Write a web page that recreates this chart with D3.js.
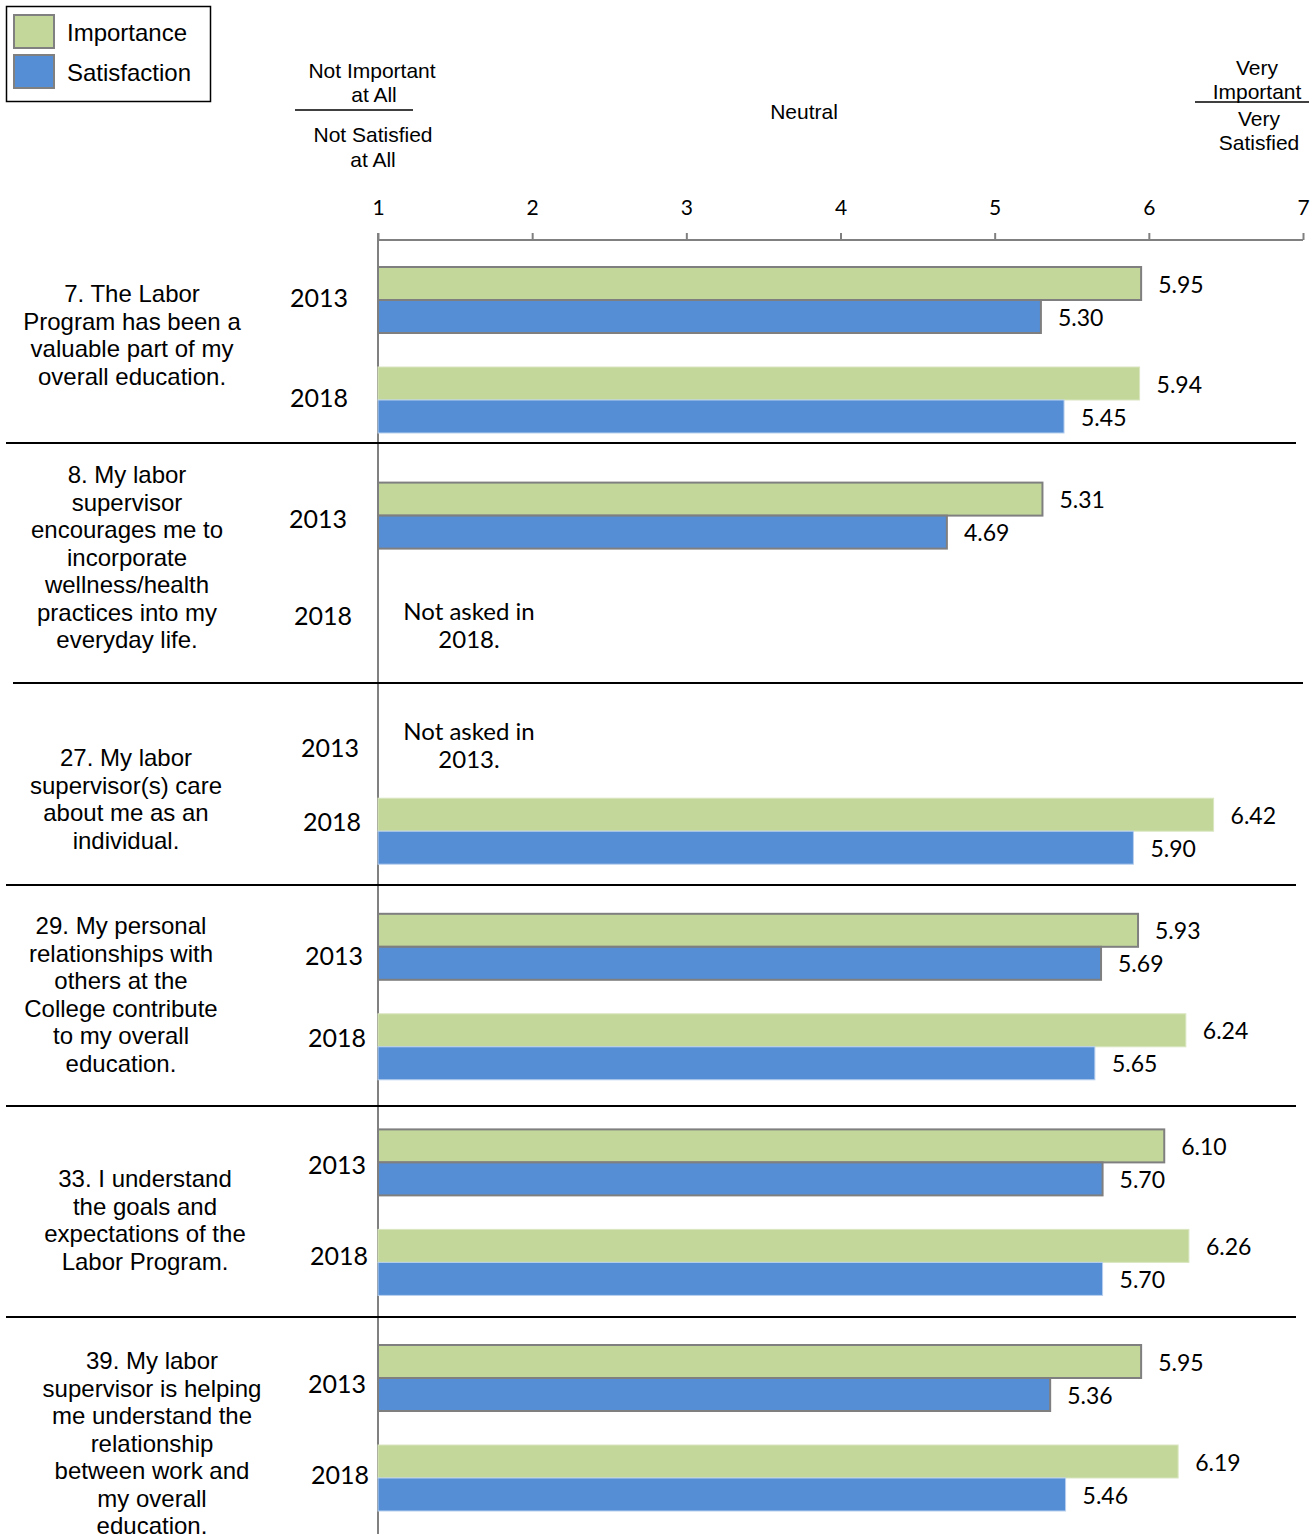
<!DOCTYPE html>
<html><head><meta charset="utf-8">
<script src="https://cdn.jsdelivr.net/npm/d3@7/dist/d3.min.js"></script>
<style>body{margin:0;background:#fff}svg{display:block}</style>
</head><body>
<script>
// ---------- DATA ----------
const questions = ["Q7","Q8","Q27","Q29","Q33","Q39"];
const questionText = [
  ["7. The Labor","Program has been a","valuable part of my","overall education."],
  ["8. My labor","supervisor","encourages me to","incorporate","wellness/health","practices into my","everyday life."],
  ["27. My labor","supervisor(s) care","about me as an","individual."],
  ["29.  My personal","relationships with","others at the","College contribute","to my overall","education."],
  ["33. I understand","the goals and","expectations of the","Labor Program."],
  ["39. My labor","supervisor is helping","me understand the","relationship","between work and","my overall","education."]
];
const years = ["2013","2018"];
const seriesNames = ["Importance","Satisfaction"];
// values per question: [2013, 2018], null = not asked
const importance = [[5.95,5.94],[5.31,null],[null,6.42],[5.93,6.24],[6.10,6.26],[5.95,6.19]];
const satisfaction = [[5.30,5.45],[4.69,null],[null,5.90],[5.69,5.65],[5.70,5.70],[5.36,5.46]];
const tickValues = [1,2,3,4,5,6,7];
const notAskedNotes = [{q:"Q8", year:"2018", lines:["Not asked in","2018."]},{q:"Q27", year:"2013", lines:["Not asked in","2013."]}];

// ---------- LAYOUT ----------
const W = 1315, H = 1534;
const colors = {Importance:"#C4D79B", Satisfaction:"#558ED5"};
const qTextLayout = [[132,294],[127,475],[126,758],[121,926],[145,1179],[152,1361]];
const yearRight = [[348,348],[347,352],[359,361],[363,366],[366,368],[366,369]];
const yearDy = [[-2,-2],[3,0],[17,-9],[9,-9],[3,-6],[6,-3]];
const noteDy = [1,5];
const separators = [[6,1296,443],[13,1303,683],[6,1296,885],[6,1296,1106],[6,1296,1317]];

const svg = d3.select("body").append("svg").attr("width",W).attr("height",H);

const x = d3.scaleLinear().domain([1,7]).range([378,1303]);
const yQ = d3.scaleBand().domain(questions).range([251, 251+6*215.6]);
const yYear = d3.scaleBand().domain(years).range([16,182]).paddingInner(0.34).paddingOuter(0);
const ySer = d3.scaleBand().domain(seriesNames).range([0, yYear.bandwidth()]);

// axis
const axis = d3.axisTop(x).tickValues(tickValues).tickSize(7).tickPadding(18).tickFormat(d3.format("d"));
const gAx = svg.append("g").attr("transform","translate(0,240)").call(axis);
gAx.select(".domain").attr("stroke","#808080").attr("stroke-width",2).attr("d","M378,0H1303");
gAx.selectAll(".tick line").attr("stroke","#808080").attr("stroke-width",2);
gAx.selectAll(".tick text").attr("font-family","Lato, 'Open Sans', sans-serif").attr("font-size",21).attr("fill","#000");

// vertical axis line
svg.append("line").attr("x1",378).attr("x2",378).attr("y1",233).attr("y2",H)
  .attr("stroke","#808080").attr("stroke-width",2);

// separators
svg.selectAll("line.sep").data(separators).enter().append("line").attr("class","sep")
  .attr("x1",d=>d[0]).attr("x2",d=>d[1]).attr("y1",d=>d[2]).attr("y2",d=>d[2])
  .attr("stroke","#000").attr("stroke-width",2);

// bars
const bars = [];
questions.forEach((q,qi)=>{
  years.forEach((yr,yi)=>{
    [["Importance",importance],["Satisfaction",satisfaction]].forEach(([s,arr])=>{
      const v = arr[qi][yi];
      if(v!==null) bars.push({q,qi,yr,yi,s,v});
    });
  });
});
const barY = d=>yQ(d.q)+yYear(d.yr)+ySer(d.s);
svg.selectAll("rect.bar").data(bars).enter().append("rect").attr("class","bar")
  .attr("x",x(1)).attr("y",barY)
  .attr("width",d=>x(d.v)-x(1)).attr("height",ySer.bandwidth())
  .attr("fill",d=>colors[d.s])
  .attr("stroke",d=>d.yr==="2013" ? "#7f7f7f" : (d.s==="Importance"?"#d9e6c0":"#b9d0ee"))
  .attr("stroke-width",d=>d.yr==="2013"?2:1);

svg.selectAll("text.val").data(bars).enter().append("text").attr("class","val")
  .attr("x",d=>x(d.v)+17).attr("y",d=>barY(d)+ySer.bandwidth()/2+1)
  .attr("dy","0.35em")
  .attr("font-family","Lato, 'Open Sans', sans-serif").attr("font-size",23).attr("fill","#000")
  .text(d=>d3.format(".2f")(d.v));

// year labels
questions.forEach((q,qi)=>{
  years.forEach((yr,yi)=>{
    svg.append("text")
      .attr("x",yearRight[qi][yi])
      .attr("y",yQ(q)+yYear(yr)+yYear.bandwidth()/2+yearDy[qi][yi])
      .attr("dy","0.36em").attr("text-anchor","end")
      .attr("font-family","Lato, 'Open Sans', sans-serif").attr("font-size",25).attr("fill","#000")
      .text(yr);
  });
});

// question texts
questionText.forEach((lines,qi)=>{
  const t = svg.append("text").attr("text-anchor","middle")
    .attr("font-family","'Liberation Sans', Arial, sans-serif").attr("font-size",24).attr("fill","#000");
  lines.forEach((ln,li)=>{
    t.append("tspan").attr("x",qTextLayout[qi][0]).attr("y",qTextLayout[qi][1]+li*27.5).attr("dy","0.35em").text(ln);
  });
});

// not asked notes
notAskedNotes.forEach((n,ni)=>{
  const cy = yQ(n.q)+yYear(n.year)+yYear.bandwidth()/2;
  const t = svg.append("text").attr("text-anchor","middle")
    .attr("font-family","Lato, 'Open Sans', sans-serif").attr("font-size",24).attr("fill","#000");
  n.lines.forEach((ln,li)=>{
    t.append("tspan").attr("x",469).attr("y",cy-5+noteDy[ni]+li*28).attr("dy","0.35em").text(ln);
  });
});

// header texts
const hf = "'Liberation Sans', Arial, sans-serif";
function htext(xx,yy,s){svg.append("text").attr("x",xx).attr("y",yy).attr("dy","0.35em").attr("text-anchor","middle")
  .attr("font-family",hf).attr("font-size",21).attr("fill","#000").text(s);}
htext(372,71,"Not Important"); htext(374,95,"at All");
htext(373,135,"Not Satisfied"); htext(373,160,"at All");
htext(804,112,"Neutral");
htext(1257,68,"Very"); htext(1257,92,"Important");
htext(1259,119,"Very"); htext(1259,143,"Satisfied");
svg.append("line").attr("x1",295).attr("x2",413).attr("y1",110).attr("y2",110).attr("stroke","#000").attr("stroke-width",1.5);
svg.append("line").attr("x1",1195).attr("x2",1309).attr("y1",102).attr("y2",102).attr("stroke","#000").attr("stroke-width",1.5);

// legend
const lg = svg.append("g");
lg.append("rect").attr("x",6.5).attr("y",6.5).attr("width",204).attr("height",95).attr("fill","#fff").attr("stroke","#000").attr("stroke-width",1.5);
seriesNames.forEach((s,i)=>{
  lg.append("rect").attr("x",14).attr("y",15+i*40).attr("width",40).attr("height",33)
    .attr("fill",colors[s]).attr("stroke","#808080").attr("stroke-width",2);
  lg.append("text").attr("x",67).attr("y",33+i*40).attr("dy","0.35em")
    .attr("font-family",hf).attr("font-size",24).attr("fill","#000").text(s);
});
</script>
</body></html>
